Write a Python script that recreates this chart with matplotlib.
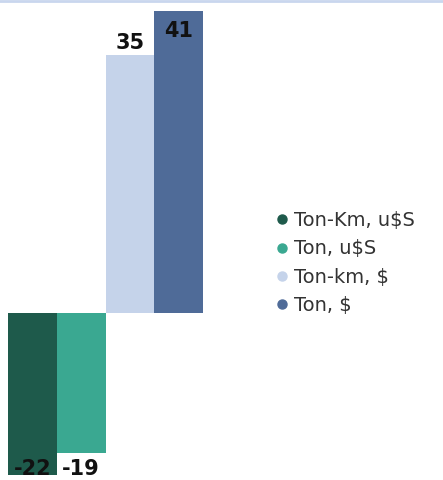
import matplotlib
matplotlib.use("Agg")
import matplotlib.pyplot as plt
from matplotlib.lines import Line2D

series = ["Ton-Km, u\\$S", "Ton, u\\$S", "Ton-km, \\$", "Ton, \\$"]
values = [-22, -19, 35, 41]
labels = ["-22", "-19", "35", "41"]
colors = ["#1e5a4b", "#3aa891", "#c5d3ea", "#4f6b98"]

plt.rcParams['font.family'] = ['DejaVu Sans']

fig = plt.figure(figsize=(4.43, 4.8), dpi=100)
ax = fig.add_axes([8/443, 0, 195/443, 1])
x = list(range(len(values)))
ax.bar(x, values, width=1.0, color=colors)
ax.set_xlim(-0.5, 3.5)
ax.set_ylim(-22.66, 42.49)
ax.axis('off')

label_y = [-21.2, -21.2, 36.6, 38.3]
for xi, ly, t in zip(x, label_y, labels):
    ax.text(xi, ly, t, ha='center', va='center', fontsize=15, fontweight='bold', color='#111111')

# top thin line
fig.add_artist(Line2D([0, 1], [0.998, 0.998], transform=fig.transFigure, color='#c9d6ee', lw=2))

handles = [Line2D([0], [0], marker='o', linestyle='none', markersize=6.5,
                  markerfacecolor=c, markeredgecolor=c) for c in colors]
leg = fig.legend(handles, series, loc='center left', bbox_to_anchor=(260/443, 1 - 263/480),
                 frameon=False, fontsize=14, handlelength=0.5, handletextpad=0.35,
                 labelspacing=0.47, labelcolor='#333333')

fig.savefig("out.png", dpi=100)
